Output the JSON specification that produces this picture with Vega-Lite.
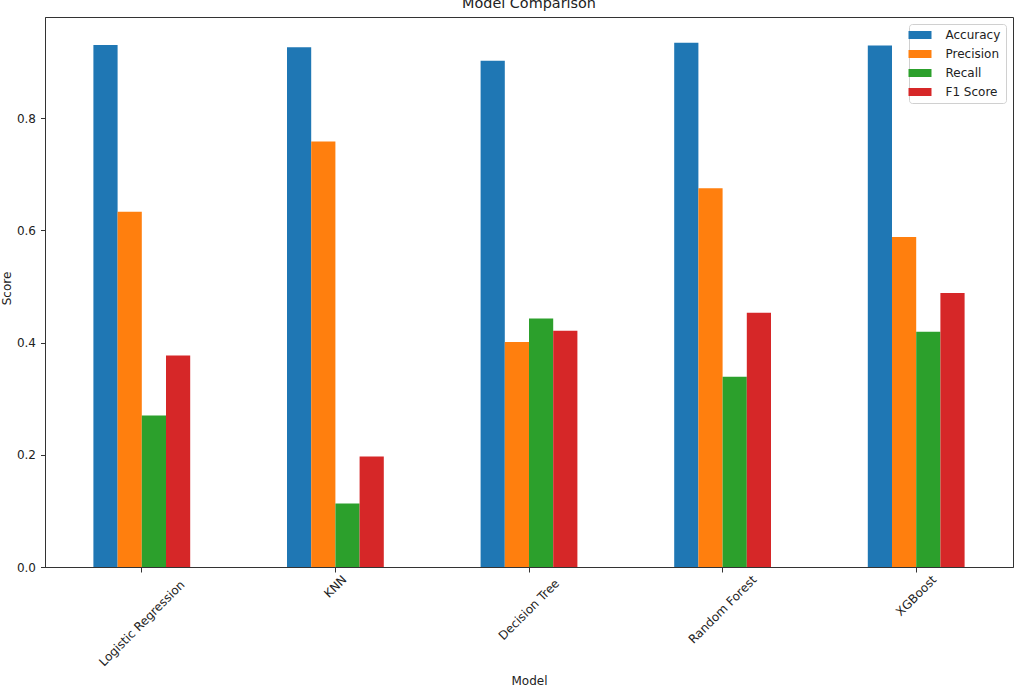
{
  "$schema": "https://vega.github.io/schema/vega-lite/v6.json",
  "width": 968,
  "height": 550,
  "autosize": {"type": "none"},
  "padding": {"left": 45, "top": 17, "right": 11, "bottom": 127},
  "background": "white",
  "title": {
    "text": "Model Comparison",
    "font": "DejaVu Sans",
    "fontSize": 14.4,
    "fontWeight": "normal",
    "color": "#222",
    "anchor": "middle",
    "baseline": "alphabetic",
    "offset": -5
  },
  "data": {
    "values": [
      {"Model": "Logistic Regression", "Metric": "Accuracy", "Score": 0.930},
      {"Model": "Logistic Regression", "Metric": "Precision", "Score": 0.633},
      {"Model": "Logistic Regression", "Metric": "Recall", "Score": 0.270},
      {"Model": "Logistic Regression", "Metric": "F1 Score", "Score": 0.377},
      {"Model": "KNN", "Metric": "Accuracy", "Score": 0.926},
      {"Model": "KNN", "Metric": "Precision", "Score": 0.758},
      {"Model": "KNN", "Metric": "Recall", "Score": 0.113},
      {"Model": "KNN", "Metric": "F1 Score", "Score": 0.197},
      {"Model": "Decision Tree", "Metric": "Accuracy", "Score": 0.902},
      {"Model": "Decision Tree", "Metric": "Precision", "Score": 0.401},
      {"Model": "Decision Tree", "Metric": "Recall", "Score": 0.443},
      {"Model": "Decision Tree", "Metric": "F1 Score", "Score": 0.421},
      {"Model": "Random Forest", "Metric": "Accuracy", "Score": 0.934},
      {"Model": "Random Forest", "Metric": "Precision", "Score": 0.675},
      {"Model": "Random Forest", "Metric": "Recall", "Score": 0.339},
      {"Model": "Random Forest", "Metric": "F1 Score", "Score": 0.453},
      {"Model": "XGBoost", "Metric": "Accuracy", "Score": 0.929},
      {"Model": "XGBoost", "Metric": "Precision", "Score": 0.588},
      {"Model": "XGBoost", "Metric": "Recall", "Score": 0.419},
      {"Model": "XGBoost", "Metric": "F1 Score", "Score": 0.488}
    ]
  },
  "mark": {"type": "bar", "stroke": null},
  "encoding": {
    "x": {
      "field": "Model",
      "type": "nominal",
      "sort": ["Logistic Regression", "KNN", "Decision Tree", "Random Forest", "XGBoost"],
      "scale": {"paddingInner": 0.5, "paddingOuter": 0.25},
      "axis": {
        "title": "Model",
        "titleFont": "DejaVu Sans",
        "titleFontSize": 12,
        "titleFontWeight": "normal",
        "titleColor": "#222",
        "titleY": 117,
        "titleBaseline": "alphabetic",
        "labelAngle": -45,
        "labelAlign": "center",
        "labelBaseline": "middle",
        "labelFont": "DejaVu Sans",
        "labelFontSize": 12,
        "labelColor": "#222",
        "labelPadding": {"expr": "3 + (6.5*length(datum.value)+12)/2.83"},
        "labelOverlap": false,
        "labelBound": false,
        "labelFlush": false,
        "labelLimit": 400,
        "tickSize": 5,
        "tickColor": "#333",
        "domainColor": "#333",
        "grid": false
      }
    },
    "xOffset": {
      "field": "Metric",
      "type": "nominal",
      "sort": ["Accuracy", "Precision", "Recall", "F1 Score"],
      "scale": {"paddingInner": 0, "paddingOuter": 0}
    },
    "y": {
      "field": "Score",
      "type": "quantitative",
      "scale": {"domain": [0, 0.98], "nice": false, "zero": true},
      "axis": {
        "title": "Score",
        "titleFont": "DejaVu Sans",
        "titleFontSize": 12,
        "titleFontWeight": "normal",
        "titleColor": "#222",
        "titleX": -39,
        "titleY": 271,
        "titleAngle": -90,
        "titleBaseline": "middle",
        "titleAlign": "center",
        "values": [0, 0.2, 0.4, 0.6, 0.8],
        "format": ".1f",
        "labelFont": "DejaVu Sans",
        "labelFontSize": 12,
        "labelColor": "#222",
        "labelPadding": 5,
        "tickSize": 4.5,
        "tickColor": "#333",
        "domainColor": "#333",
        "grid": false
      }
    },
    "color": {
      "field": "Metric",
      "type": "nominal",
      "sort": ["Accuracy", "Precision", "Recall", "F1 Score"],
      "scale": {
        "domain": ["Accuracy", "Precision", "Recall", "F1 Score"],
        "range": ["#1f77b4", "#ff7f0e", "#2ca02c", "#d62728"]
      },
      "legend": {
        "title": null,
        "orient": "top-right",
        "offset": 7,
        "padding": 5,
        "fillColor": "white",
        "strokeColor": "#d0d0d0",
        "cornerRadius": 3,
        "symbolType": "M-2.875,-1L2.875,-1L2.875,1L-2.875,1Z",
        "symbolSize": 64,
        "symbolStrokeWidth": 0,
        "symbolOpacity": 1,
        "labelFont": "DejaVu Sans",
        "labelFontSize": 12,
        "labelColor": "#222",
        "labelOffset": 19.5,
        "rowPadding": 7
      }
    }
  },
  "config": {
    "view": {"stroke": "#333", "strokeWidth": 1},
    "axis": {"domainWidth": 1, "tickWidth": 1}
  }
}
